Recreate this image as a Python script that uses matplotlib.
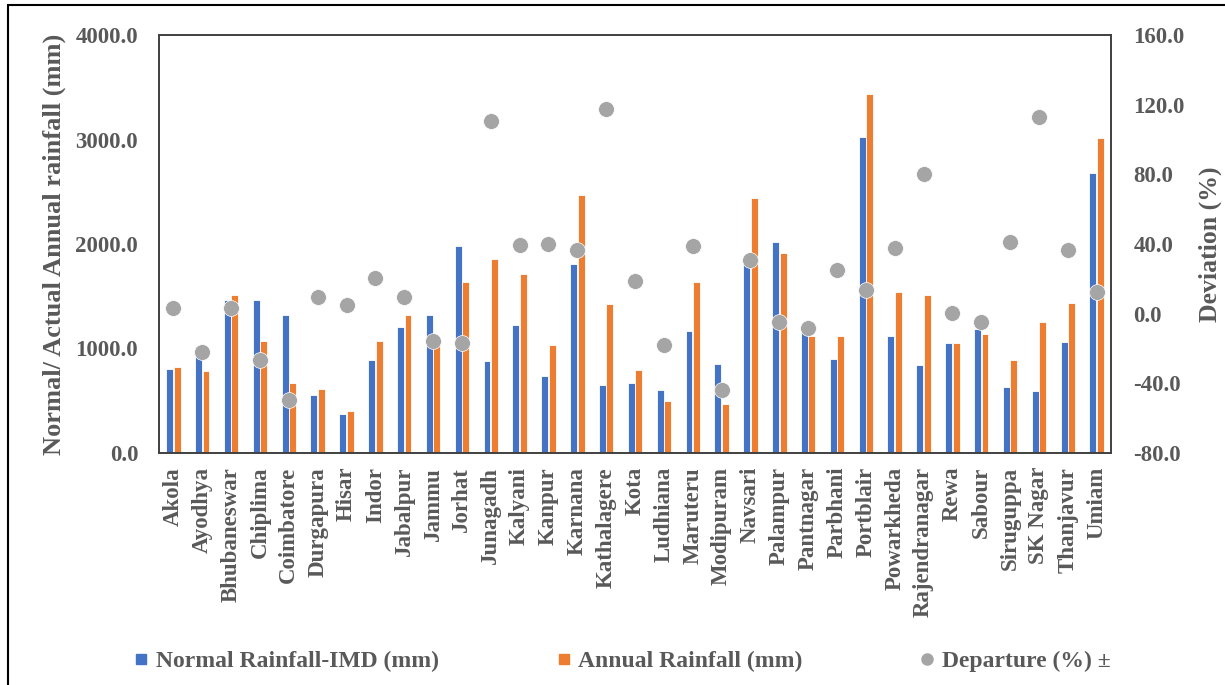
import matplotlib.pyplot as plt
import numpy as np
from matplotlib.lines import Line2D
from matplotlib.patches import Rectangle

plt.rcParams['font.family'] = ['Liberation Serif', 'DejaVu Serif']
plt.rcParams['font.weight'] = 'bold'
plt.rcParams['axes.labelweight'] = 'bold'

stations = ['Akola', 'Ayodhya', 'Bhubaneswar', 'Chiplima', 'Coimbatore', 'Durgapura',
            'Hisar', 'Indor', 'Jabalpur', 'Jammu', 'Jorhat', 'Junagadh', 'Kalyani',
            'Kanpur', 'Karnana', 'Kathalagere', 'Kota', 'Ludhiana', 'Maruteru',
            'Modipuram', 'Navsari', 'Palampur', 'Pantnagar', 'Parbhani', 'Portblair',
            'Powarkheda', 'Rajendranagar', 'Rewa', 'Sabour', 'Siruguppa', 'SK Nagar',
            'Thanjavur', 'Umiam']

normal_mm = [804, 1024, 1464, 1464, 1318, 558, 373, 890, 1209, 1318, 1978, 877, 1222,
             740, 1806, 654, 667, 606, 1171, 852, 1830, 2016, 1200, 900, 3021,
             1120, 839, 1050, 1184, 629, 593, 1059, 2677]

annual_mm = [826, 788, 1512, 1072, 667, 609, 399, 1072, 1318, 1110, 1634, 1857, 1710,
             1037, 2469, 1426, 791, 495, 1634, 472, 2443, 1917, 1123, 1120, 3439,
             1538, 1512, 1050, 1136, 887, 1257, 1438, 3011]

departure = [3.4, -22.2, 3.4, -26.6, -49.6, 9.4, 5.0, 20.3, 9.4, -15.7, -17.0, 110.8,
             39.4, 40.2, 36.5, 117.3, 18.7, -17.8, 38.7, -43.7, 30.6, -4.8, -8.4,
             24.9, 13.6, 37.9, 80.0, 0.4, -4.8, 41.0, 112.9, 36.5, 12.2]

blue = '#4472C4'
orange = '#ED7D31'
grey = '#A5A5A5'
txt = '#595959'

fig = plt.figure(figsize=(12.25, 6.85), dpi=100)
ax = fig.add_axes([0.1298, 0.3387, 0.7772, 0.6102])
x = np.arange(len(stations))
w = 0.24

ax.bar(x - 0.13, normal_mm, w, color=blue, edgecolor='white', linewidth=0.6)
ax.bar(x + 0.13, annual_mm, w, color=orange, edgecolor='white', linewidth=0.6)
ax.set_xlim(-0.5, len(stations) - 0.5)
ax.set_ylim(0, 4000)
ax.set_yticks(np.arange(0, 4001, 1000))
ax.set_yticklabels(['%.1f' % v for v in np.arange(0, 4001, 1000)])
ax.set_xticks(x)
ax.set_xticklabels(stations, rotation=90)
ax.tick_params(axis='both', length=0, labelsize=16.5, labelcolor=txt)
ax.tick_params(axis='y', pad=15)
ax.tick_params(axis='x', pad=10)
ax.set_ylabel('Normal/ Actual Annual rainfall (mm)', fontsize=19, color=txt, labelpad=7)

ax2 = ax.twinx()
ax2.scatter(x, departure, s=130, color=grey, edgecolor='white', linewidth=0.5, zorder=3)
ax2.set_ylim(-80, 160)
ax2.set_yticks(np.arange(-80, 161, 40))
ax2.set_yticklabels(['%.1f' % v for v in np.arange(-80, 161, 40)])
ax2.tick_params(axis='y', length=0, labelsize=16.5, labelcolor=txt, pad=16)
ax2.set_ylabel('Deviation (%)', fontsize=18.5, color=txt, labelpad=10)

for a in (ax, ax2):
    for s in a.spines.values():
        s.set_color('#404040')
        s.set_linewidth(1.2)

handles = [Line2D([], [], ls='none', marker='s', ms=7, color=blue),
           Line2D([], [], ls='none', marker='s', ms=7, color=orange),
           Line2D([], [], ls='none', marker='o', ms=8, color=grey)]
labels = ['Normal Rainfall-IMD (mm)', 'Annual Rainfall (mm)', 'Departure (%) \u00b1']
leg = fig.legend(handles, labels, loc='center', bbox_to_anchor=(0.508, 0.035), ncol=3,
                 frameon=False, fontsize=17, handlelength=0.6, handletextpad=0.3,
                 columnspacing=5.0)
for t in leg.get_texts():
    t.set_color(txt)

fig.patches.append(Rectangle((0.0065, -0.05), 1.05, 1.043, transform=fig.transFigure,
                             fill=False, edgecolor='black', linewidth=1.5))

fig.savefig('out.png', dpi=100)
